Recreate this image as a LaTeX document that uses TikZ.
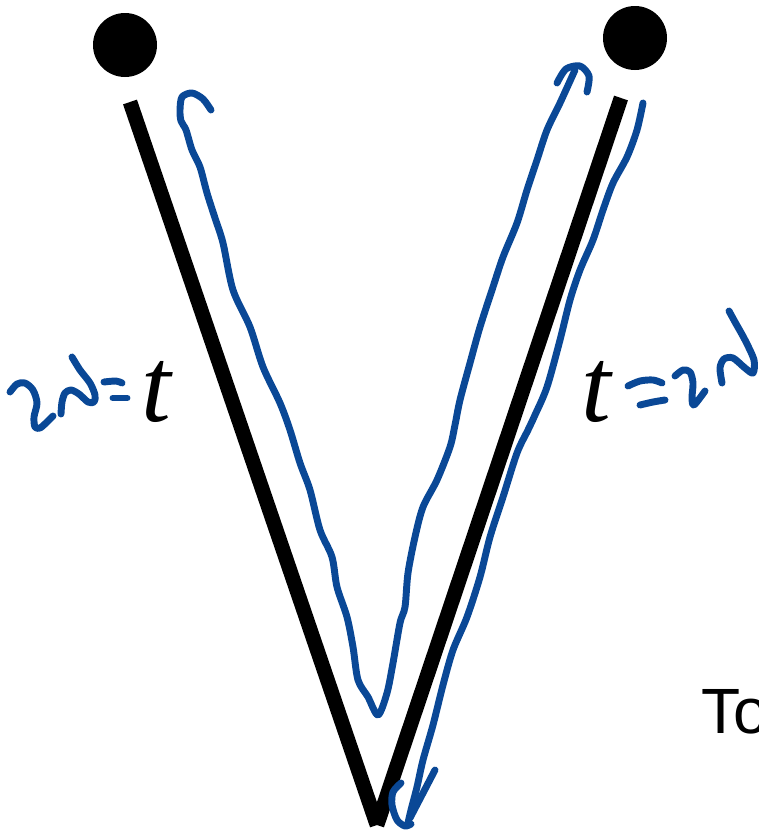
\documentclass[tikz,border=0pt]{standalone}
\usepackage{fontspec}
\newfontfamily\helv{Liberation Sans}
\newfontfamily\tms{Liberation Serif}
\definecolor{inkblue}{RGB}{10,72,150}
\tikzset{
  x=0.75pt, y=-0.75pt,
  bar/.style={line width=11pt, line cap=butt, black},
  ink/.style={line width=5.2pt, inkblue, line cap=round, line join=round},
  dot/.style={circle, fill=black, minimum size=48pt, inner sep=0pt},
  tlabel/.style={font=\tms\fontsize{80}{80}\selectfont\itshape, inner sep=0pt, anchor=base},
}
\begin{document}
\begin{tikzpicture}
\useasboundingbox (0,0) rectangle (759,835);
% dots
\node[dot] (ldot) at (125,45) {};
\node[dot] (rdot) at (635,38) {};
% V bars
\coordinate (ltop) at (130,102);
\coordinate (apex) at (377,825);
\coordinate (rtop) at (621,98);
\draw[bar] (ltop) -- (apex);
\draw[bar] (apex) -- (rtop);
% labels t
\node[tlabel] (lt) at (156,421) {t};
\node[tlabel] (rt) at (596,421) {t};
% To
\node[font=\helv\fontsize{48}{48}\selectfont, inner sep=0pt, anchor=base west] (to) at (701,733) {To};
% blue path down the left, up the inside
\draw[ink] plot[smooth, tension=0.5] coordinates {(211,110) (203,99) (192,93) (182,97) (180,110) (181,121) (186,130) (192,150) (200,167) (207,193) (215,218) (223,243) (233,290) (250,327) (263,367) (280,403) (290,430) (300,463) (310,490) (320,530) (332,557) (337,587) (347,617) (353,647) (358,680) (368,697) (378,715) (387,693) (393,663) (400,623) (405,607) (408,573) (415,537) (423,507) (437,480) (450,447) (455,425) (460,400) (470,363) (480,327) (493,287) (503,257) (517,223) (527,190) (537,160) (547,130) (560,103) (575,70)};
\draw[ink] plot[smooth, tension=0.5] coordinates {(557,83) (566,69) (580,66) (589,76) (587,92)};
% blue path down the right side
\draw[ink] plot[smooth, tension=0.5] coordinates {(643,103) (637,130) (627,157) (613,183) (603,210) (593,240) (580,270) (570,300) (560,340) (547,387) (535,415) (528,430) (517,453) (503,497) (490,537) (480,577) (467,617) (453,650) (443,685) (433,725) (423,760) (417,787) (411,810) (408,823)};
\draw[ink] plot[smooth, tension=0.5] coordinates {(401,783) (393,792) (392,805) (397,820) (405,826) (411,824)};
\draw[ink] (410,818) -- (435,770);
% left handwriting 2N=
\draw[ink] plot[smooth, tension=0.5] coordinates {(10,392) (17,384) (25,383) (33,390) (37,403) (34,417) (35,427) (40,428) (47,422) (53,416)};
\draw[ink] plot[smooth, tension=0.5] coordinates {(61,414) (62,402) (65,393) (71,390) (79,394) (88,402) (94,402) (95,395) (90,383) (80,370) (72,357)};
\draw[ink] plot[smooth, tension=0.5] coordinates {(104,382) (116,381) (122,383)};
\draw[ink] (113,398) -- (127,398);
% right handwriting =2N
\draw[ink] plot[smooth, tension=0.5] coordinates {(628,386) (640,381) (653,380) (662,383)};
\draw[ink] plot[smooth, tension=0.5] coordinates {(640,405) (653,402) (665,400)};
\draw[ink] plot[smooth, tension=0.5] coordinates {(675,376) (683,370) (690,372) (693,383) (692,398) (694,405) (705,391)};
\draw[ink] plot[smooth, tension=0.5] coordinates {(722,383) (720,368) (724,359) (733,358) (745,368) (753,373) (754,360) (745,340) (735,322) (729,311)};
\end{tikzpicture}
\end{document}
